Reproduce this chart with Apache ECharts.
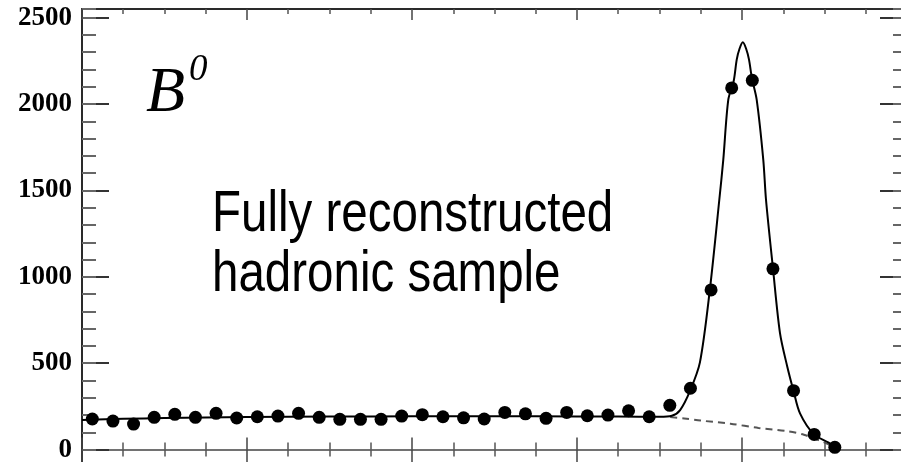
<!DOCTYPE html>
<html>
<head>
<meta charset="utf-8">
<script src="https://cdn.jsdelivr.net/npm/echarts@6/dist/echarts.min.js"></script>
<style>
html,body{margin:0;padding:0;background:#fff;}
#chart{width:901px;height:462px;}
</style>
</head>
<body>
<div id="chart"></div>
<script>
// Bin centres (GeV) and event counts
const massBins = [5.20125,5.20375,5.20625,5.20875,5.21125,5.21375,5.21625,5.21875,
  5.22125,5.22375,5.22625,5.22875,5.23125,5.23375,5.23625,5.23875,
  5.24125,5.24375,5.24625,5.24875,5.25125,5.25375,5.25625,5.25875,
  5.26125,5.26375,5.26625,5.26875,5.27125,5.27375,5.27625,5.27875,
  5.28125,5.28375,5.28625,5.28875,5.29125];
const counts = [177,165,148,187,204,187,210,183,
  190,194,210,187,175,175,175,194,
  202,190,184,177,215,207,181,215,
  196,200,225,190,256,355,924,2093,
  2137,1046,341,88,13];

// Total fit curve
const fitMass = [5.200,5.205,5.210,5.215,5.220,5.230,5.240,5.250,5.260,5.265,5.2700,5.2715,5.2725,5.2737,5.2749,5.2761,
  5.27725,5.27773,5.27834,5.2790,5.27936,5.2797,5.2801,5.2805,5.28085,5.2812,5.28178,5.28258,5.28291,5.28376,5.28461,5.28549,5.28624,
  5.28703,5.28873,5.2905,5.29127,5.2915];
const fitTotal = [172,178,183,186,188,191,193,193,192,191,190,196,229,340,505,924,
  1446,1677,2025,2135,2257,2320,2357,2320,2257,2150,2025,1677,1446,1046,673,480,341,
  210,88,40,13,0];

// Background (dashed) curve
const bgMass = [5.2713,5.2730,5.2750,5.2786,5.2820,5.2856,5.2875,5.2893,5.2905,5.2913,5.2915];
const bgLevel = [188,180,168,150,125,106,86,55,30,8,0];

// Axis tick labels
const yLabels = [0,500,1000,1500,2000,2500];

const chart = echarts.init(document.getElementById('chart'), null, {renderer:'canvas'});

const frameColor = '#2a2a2a';
const yRange = {min:-500, max:2550};

function yAxisDef(pos, interval, len, showLine, showLabel){
  return {
    type:'value', position:pos, min:yRange.min, max:yRange.max, interval:interval,
    axisLine:{show:showLine, onZero:false, lineStyle:{color:frameColor, width:2}},
    axisTick:{show:true, inside:true, length:len, lineStyle:{color: len>20?'#333':'#666', width:2}},
    axisLabel:{show:showLabel, margin:10, color:'#000', fontFamily:'"Liberation Serif", serif',
      fontWeight:'bold', fontSize:27, showMaxLabel:false,
      formatter:function(v){ return yLabels.indexOf(v) >= 0 ? String(v) : ''; }},
    splitLine:{show:false}
  };
}

const option = {
  animation:false,
  backgroundColor:'#fff',
  grid:{left:82, right:-6, top:9, height:527, containLabel:false, outerBoundsMode:'none'},
  xAxis:[
    {type:'value', position:'bottom', min:5.20, max:5.30, interval:0.02,
     axisLine:{show:true, onZero:true, onZeroAxisIndex:0, lineStyle:{color:'#444', width:1.5}},
     axisTick:{show:true, inside:true, length:12, lineStyle:{color:'#444', width:1.5}},
     minorTick:{show:true, splitNumber:4, length:7, lineStyle:{color:'#555', width:1.5}},
     axisLabel:{show:false}, splitLine:{show:false}, minorSplitLine:{show:false}},
    {type:'value', position:'bottom', min:5.20, max:5.30, interval:0.02,
     axisLine:{show:false, onZero:true, onZeroAxisIndex:0},
     axisTick:{show:true, inside:false, length:14, lineStyle:{color:'#444', width:1.5}},
     minorTick:{show:true, splitNumber:4, length:7, lineStyle:{color:'#555', width:1.5}},
     axisLabel:{show:false}, splitLine:{show:false}},
    {type:'value', position:'top', min:5.20, max:5.30, interval:0.02,
     axisLine:{show:true, onZero:false, lineStyle:{color:frameColor, width:2}},
     axisTick:{show:true, inside:true, length:11, lineStyle:{color:'#444', width:1.5}},
     minorTick:{show:true, splitNumber:4, length:5, lineStyle:{color:'#555', width:1.5}},
     axisLabel:{show:false}, splitLine:{show:false}}
  ],
  yAxis:[
    yAxisDef('left', 500, 27, true, true),
    yAxisDef('left', 100, 14, false, false),
    yAxisDef('right', 500, 27, true, false),
    yAxisDef('right', 100, 14, false, false)
  ],
  series:[
    {type:'line', name:'background', xAxisIndex:0, yAxisIndex:0,
     data: bgMass.map((m,i)=>[m,bgLevel[i]]), smooth:0.3, showSymbol:false, symbol:'none',
     lineStyle:{color:'#555', width:2, type:[7,5]}, z:2, clip:true},
    {type:'line', name:'fit', xAxisIndex:0, yAxisIndex:0,
     data: fitMass.map((m,i)=>[m,fitTotal[i]]), smooth:0.3, showSymbol:false, symbol:'none',
     lineStyle:{color:'#000', width:2}, z:3, clip:true},
    {type:'scatter', name:'data', xAxisIndex:0, yAxisIndex:0,
     data: massBins.map((m,i)=>[m,counts[i]]), symbol:'circle', symbolSize:13,
     itemStyle:{color:'#000', opacity:1}, z:4}
  ],
  graphic:[
    {type:'text', x:146, y:94, style:{text:'B', font:'italic 64px "Liberation Serif"', fill:'#000',
      align:'left', verticalAlign:'middle'}},
    {type:'text', x:189, y:70, style:{text:'0', font:'italic 37px "Liberation Serif"', fill:'#000',
      align:'left', verticalAlign:'middle'}},
    {type:'text', x:212, y:244, originX:0, originY:0, scaleY:1.2,
      style:{text:'Fully reconstructed', font:'47.5px "Liberation Sans"', fill:'#000',
      align:'left', verticalAlign:'bottom'}},
    {type:'text', x:212, y:304, originX:0, originY:0, scaleY:1.2,
      style:{text:'hadronic sample', font:'47.5px "Liberation Sans"', fill:'#000',
      align:'left', verticalAlign:'bottom'}}
  ]
};
chart.setOption(option);
</script>
</body>
</html>
